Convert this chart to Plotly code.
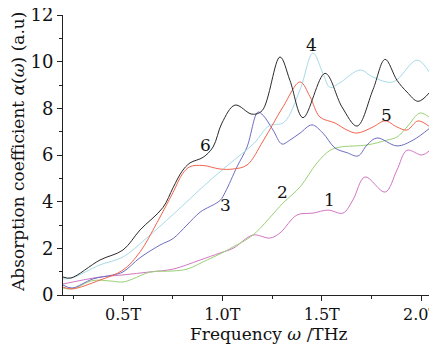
import plotly.graph_objects as go

# Curve 1 (magenta)
x1 = [0.198, 0.384, 0.500, 0.636, 0.752, 0.888, 0.988, 1.054, 1.154, 1.240, 1.290, 1.376, 1.456, 1.532, 1.607, 1.657, 1.718, 1.819, 1.879, 1.929, 2.005, 2.045]
y1 = [0.47, 0.77, 0.86, 0.99, 1.11, 1.50, 1.80, 2.00, 2.57, 2.44, 2.66, 3.43, 3.51, 3.64, 3.51, 4.07, 5.06, 4.41, 5.36, 6.20, 6.00, 6.20]

# Curve 2 (green)
x2 = [0.198, 0.243, 0.349, 0.435, 0.500, 0.550, 0.636, 0.752, 0.822, 0.923, 0.988, 1.054, 1.154, 1.305, 1.391, 1.476, 1.542, 1.592, 1.728, 1.829, 1.879, 1.929, 1.995, 2.045]
y2 = [0.30, 0.26, 0.62, 0.60, 0.56, 0.69, 0.98, 1.03, 1.11, 1.50, 1.76, 2.06, 2.57, 3.94, 4.63, 5.66, 6.20, 6.34, 6.43, 6.64, 6.77, 7.20, 7.80, 7.59]

# Curve 3 (blue)
x3 = [0.198, 0.243, 0.349, 0.450, 0.500, 0.586, 0.686, 0.752, 0.822, 0.888, 0.988, 1.014, 1.074, 1.124, 1.179, 1.205, 1.255, 1.300, 1.340, 1.391, 1.451, 1.506, 1.567, 1.627, 1.683, 1.728, 1.778, 1.879, 1.960, 2.045]
y3 = [0.43, 0.30, 0.69, 0.86, 0.99, 1.60, 2.14, 2.42, 3.00, 3.55, 4.05, 4.40, 5.50, 6.34, 7.84, 7.70, 7.07, 6.47, 6.64, 6.94, 7.29, 6.94, 6.30, 6.10, 5.96, 6.43, 6.73, 6.39, 6.64, 7.16]

# Curve 4 (light blue)
x4 = [0.198, 0.243, 0.384, 0.500, 0.620, 0.752, 0.923, 1.033, 1.159, 1.235, 1.310, 1.391, 1.456, 1.506, 1.542, 1.592, 1.693, 1.758, 1.859, 1.980, 2.045]
y4 = [0.69, 0.73, 1.29, 1.63, 2.45, 3.45, 4.80, 5.60, 6.50, 7.25, 7.40, 8.80, 10.37, 9.50, 8.90, 9.10, 9.64, 9.34, 9.13, 10.07, 9.50]

# Curve 5 (red)
x5 = [0.198, 0.243, 0.384, 0.500, 0.586, 0.671, 0.752, 0.800, 0.837, 0.903, 0.988, 1.054, 1.124, 1.205, 1.305, 1.391, 1.441, 1.491, 1.567, 1.627, 1.678, 1.758, 1.819, 1.879, 1.929, 1.985, 2.045]
y5 = [0.34, 0.26, 0.64, 1.07, 1.85, 3.10, 4.40, 5.20, 5.50, 5.55, 5.40, 5.40, 5.57, 6.60, 8.06, 9.13, 8.50, 7.63, 7.37, 7.07, 6.94, 7.20, 7.46, 7.20, 7.07, 7.46, 7.20]

# Curve 6 (black)
x6 = [0.198, 0.238, 0.384, 0.500, 0.586, 0.701, 0.752, 0.797, 0.837, 0.903, 0.953, 0.998, 1.064, 1.149, 1.200, 1.290, 1.340, 1.406, 1.517, 1.602, 1.678, 1.758, 1.819, 1.879, 1.929, 1.985, 2.045]
y6 = [0.77, 0.73, 1.50, 1.93, 2.79, 3.75, 4.60, 5.30, 5.66, 5.90, 6.34, 7.37, 8.14, 7.75, 7.90, 10.20, 9.20, 7.60, 9.50, 8.06, 7.24, 8.80, 10.10, 9.20, 8.70, 8.30, 8.70]

x_tickvals = [0.5, 1.0, 1.5, 2.0]
x_ticktext = ["0.5T", "1.0T", "1.5T", "2.0T"]
y_tickvals = [0, 2, 4, 6, 8, 10, 12]

labels = ["1", "2", "3", "4", "5", "6"]
label_x = [1.537, 1.305, 1.018, 1.451, 1.824, 0.913]
label_y = [4.07, 4.41, 3.86, 10.70, 7.70, 6.43]

x_title = "Frequency <i>ω</i> /THz"
y_title = "Absorption coefficient <i>α</i>(<i>ω</i>) (a.u)"

series = [
    (x1, y1, "#d276c4"),
    (x2, y2, "#9ad176"),
    (x3, y3, "#6c6cc2"),
    (x4, y4, "#a6dbe8"),
    (x5, y5, "#f2654e"),
    (x6, y6, "#2b2b2b"),
]

font = "DejaVu Serif"

fig = go.Figure()
for xs, ys, c in series:
    fig.add_trace(go.Scatter(x=xs, y=ys, mode="lines",
                             line=dict(color=c, width=1, shape="spline", smoothing=1.0),
                             showlegend=False, hoverinfo="skip"))

for t, lx, ly in zip(labels, label_x, label_y):
    fig.add_annotation(x=lx, y=ly, text=t, showarrow=False,
                       font=dict(family=font, size=17, color="#111"))

# axis titles as paper-positioned annotations
fig.add_annotation(xref="paper", yref="paper", x=0.561, y=-0.141, text=x_title,
                   showarrow=False, xanchor="center", yanchor="middle",
                   font=dict(family=font, size=17, color="#111"))
fig.add_annotation(xref="paper", yref="paper", x=-0.1226, y=0.511, text=y_title,
                   showarrow=False, xanchor="center", yanchor="middle", textangle=-90,
                   font=dict(family=font, size=17, color="#111"))

# the page body adds an 8px offset; the figure is sized to compensate
fig.update_layout(
    width=429, height=336,
    margin=dict(l=55, r=7, t=7, b=49),
    paper_bgcolor="white", plot_bgcolor="white",
    font=dict(family=font, size=17, color="#111"),
    xaxis=dict(range=[0.198, 2.045], tickvals=x_tickvals, ticktext=x_ticktext,
               showgrid=False, zeroline=False, showline=True, linecolor="#222", linewidth=1,
               ticks="outside", ticklen=5, tickcolor="#222", automargin=False,
               ticklabeloverflow="allow",
               minor=dict(tickvals=[0.25, 0.75, 1.25, 1.75], ticks="outside", ticklen=3, tickcolor="#222"),
               tickfont=dict(family=font, size=16)),
    yaxis=dict(range=[0, 12], tickvals=y_tickvals,
               showgrid=False, zeroline=False, showline=True, linecolor="#222", linewidth=1,
               ticks="outside", ticklen=5, tickcolor="#222", automargin=False,
               ticklabeloverflow="allow",
               minor=dict(tickvals=[1, 3, 5, 7, 9, 11], ticks="outside", ticklen=3, tickcolor="#222"),
               tickfont=dict(family=font, size=18)),
)

fig.write_html("out.html")
